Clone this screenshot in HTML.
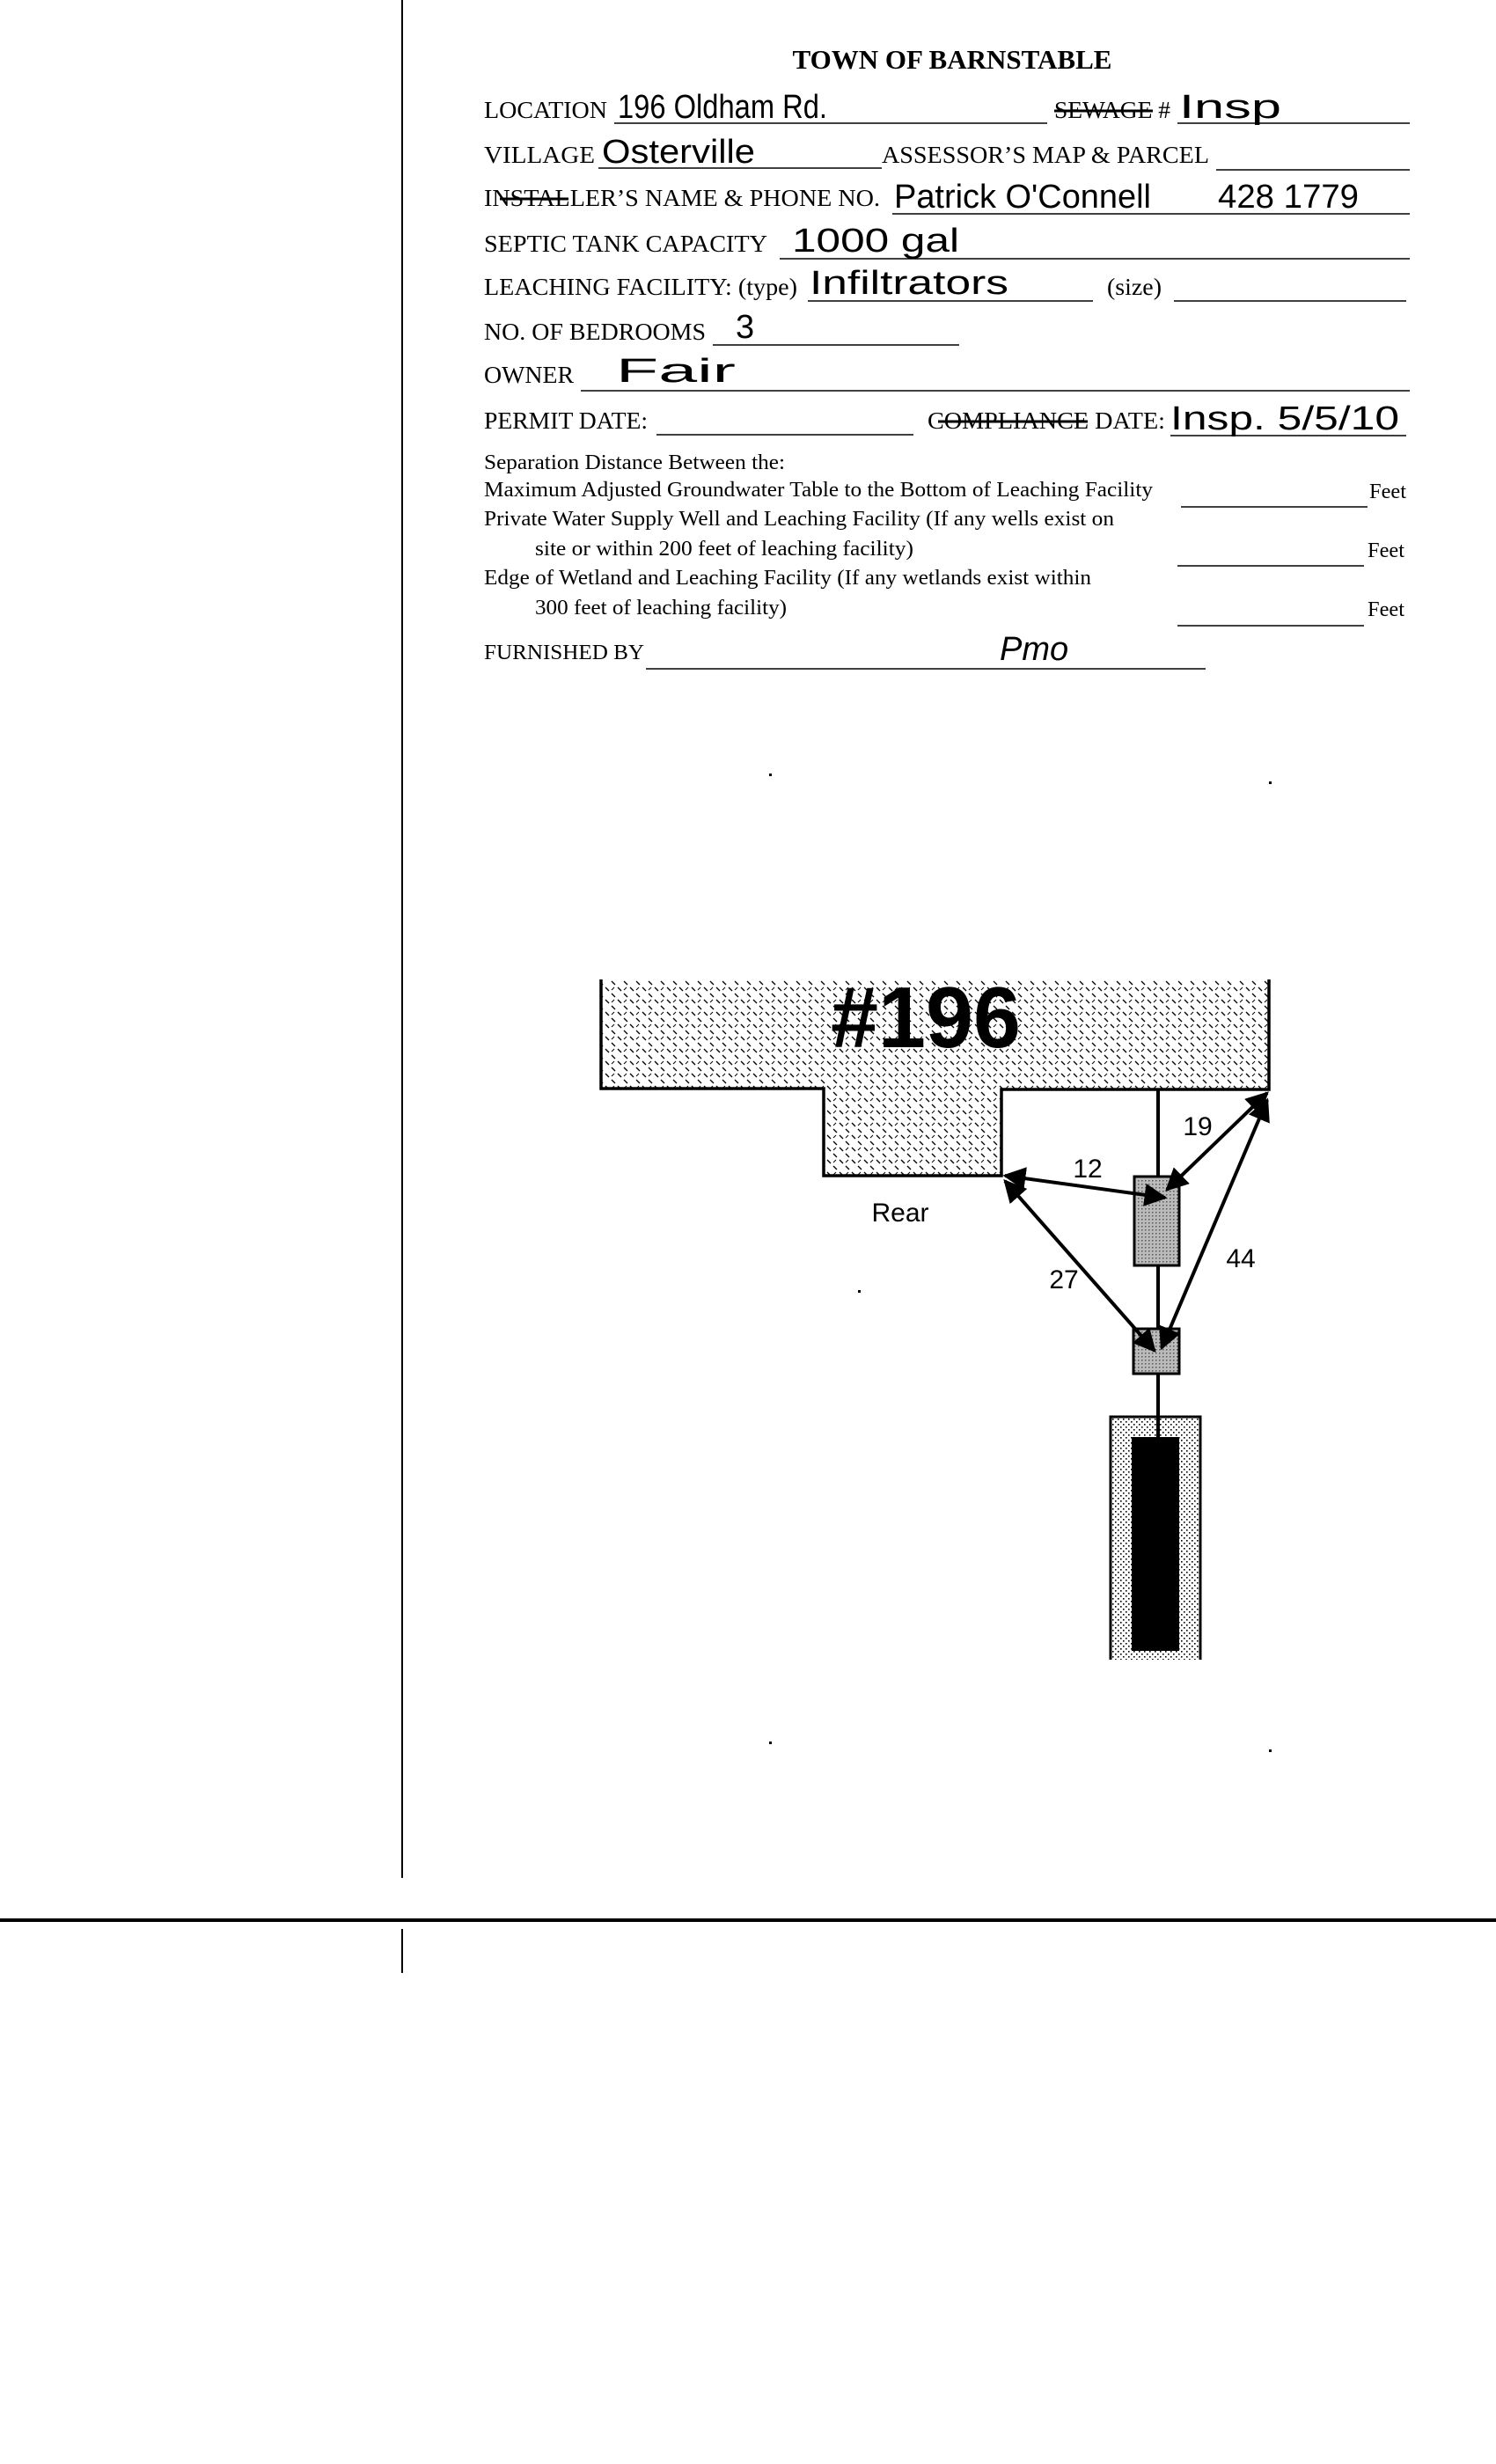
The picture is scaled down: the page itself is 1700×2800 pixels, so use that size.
<!DOCTYPE html>
<html><head><meta charset="utf-8"><style>
html,body{margin:0;padding:0;background:#fff;}
svg{display:block}
.f{font-family:"Liberation Serif",serif;font-size:27px;fill:#000}
.s{font-family:"Liberation Serif",serif;font-size:24px;fill:#000}
.h{font-family:"Liberation Sans",sans-serif;font-size:38px;fill:#000;font-weight:normal}
.d{font-family:"Liberation Sans",sans-serif;font-size:30px;fill:#000}
</style></head><body>
<svg width="1700" height="2800" viewBox="0 0 1700 2800" xmlns="http://www.w3.org/2000/svg">
<defs>
<pattern id="hatch" width="14" height="14" patternUnits="userSpaceOnUse">
<line x1="2" y1="2" x2="6" y2="6" stroke="#000" stroke-width="1.3"/>
<line x1="9" y1="9" x2="13" y2="13" stroke="#000" stroke-width="1.3"/>
<line x1="12" y1="2" x2="9" y2="5" stroke="#000" stroke-width="1"/>
</pattern>
<pattern id="dots" width="6" height="6" patternUnits="userSpaceOnUse">
<rect x="1" y="1" width="1.6" height="1.6" fill="#000"/>
<rect x="4" y="4" width="1.6" height="1.6" fill="#000"/>
</pattern>
<pattern id="gray" width="4" height="4" patternUnits="userSpaceOnUse">
<rect width="4" height="4" fill="#bbb"/>
<rect x="1" y="1" width="1.5" height="1.5" fill="#555"/>
</pattern>
<marker id="ah" viewBox="0 0 10 10" refX="9" refY="5" markerWidth="6.5" markerHeight="6.5" orient="auto-start-reverse">
<path d="M0,0 L10,5 L0,10 z" fill="#000"/>
</marker>
</defs>

<!-- page lines -->
<line x1="457" y1="0" x2="457" y2="2134" stroke="#000" stroke-width="2"/>
<line x1="457" y1="2192" x2="457" y2="2242" stroke="#000" stroke-width="2"/>
<line x1="0" y1="2182" x2="1700" y2="2182" stroke="#000" stroke-width="4"/>

<!-- Form -->
<text x="1082" y="78" text-anchor="middle" font-family="Liberation Serif,serif" font-weight="bold" font-size="31">TOWN OF BARNSTABLE</text>

<g stroke="#000" stroke-width="1.6">
<line x1="698" y1="140" x2="1190" y2="140"/>
<line x1="1338" y1="140" x2="1602" y2="140"/>
<line x1="680" y1="191" x2="1002" y2="191"/>
<line x1="1382" y1="193" x2="1602" y2="193"/>
<line x1="1014" y1="243" x2="1602" y2="243"/>
<line x1="886" y1="294" x2="1602" y2="294"/>
<line x1="918" y1="342" x2="1242" y2="342"/>
<line x1="1334" y1="342" x2="1598" y2="342"/>
<line x1="810" y1="392" x2="1090" y2="392"/>
<line x1="660" y1="444" x2="1602" y2="444"/>
<line x1="746" y1="494" x2="1038" y2="494"/>
<line x1="1330" y1="495" x2="1598" y2="495"/>
<line x1="1342" y1="576" x2="1554" y2="576"/>
<line x1="1338" y1="643" x2="1550" y2="643"/>
<line x1="1338" y1="711" x2="1550" y2="711"/>
<line x1="734" y1="760" x2="1370" y2="760"/>
</g>

<text class="f" x="550" y="134" textLength="140" lengthAdjust="spacingAndGlyphs">LOCATION</text>
<text class="f" x="1198" y="134" textLength="132" lengthAdjust="spacingAndGlyphs">SEWAGE #</text>
<line x1="1198" y1="126" x2="1310" y2="126" stroke="#000" stroke-width="3"/>
<text class="f" x="550" y="185" textLength="126" lengthAdjust="spacingAndGlyphs">VILLAGE</text>
<text class="f" x="1002" y="185" textLength="372" lengthAdjust="spacingAndGlyphs">ASSESSOR’S MAP &amp; PARCEL</text>
<text class="f" x="550" y="234" textLength="450" lengthAdjust="spacingAndGlyphs">INSTALLER’S NAME &amp; PHONE NO.</text>
<line x1="568" y1="226" x2="646" y2="226" stroke="#000" stroke-width="3"/>
<text class="f" x="550" y="286" textLength="322" lengthAdjust="spacingAndGlyphs">SEPTIC TANK CAPACITY</text>
<text class="f" x="550" y="335" textLength="356" lengthAdjust="spacingAndGlyphs">LEACHING FACILITY: (type)</text>
<text class="f" x="1258" y="335" textLength="62" lengthAdjust="spacingAndGlyphs">(size)</text>
<text class="f" x="550" y="386" textLength="252" lengthAdjust="spacingAndGlyphs">NO. OF BEDROOMS</text>
<text class="f" x="550" y="435" textLength="102" lengthAdjust="spacingAndGlyphs">OWNER</text>
<text class="f" x="550" y="487" textLength="186" lengthAdjust="spacingAndGlyphs">PERMIT DATE:</text>
<text class="f" x="1054" y="487" textLength="270" lengthAdjust="spacingAndGlyphs">COMPLIANCE DATE:</text>
<line x1="1066" y1="479" x2="1236" y2="479" stroke="#000" stroke-width="3"/>

<text class="s" x="550" y="533" textLength="342" lengthAdjust="spacingAndGlyphs">Separation Distance Between the:</text>
<text class="s" x="550" y="564" textLength="760" lengthAdjust="spacingAndGlyphs">Maximum Adjusted Groundwater Table to the Bottom of Leaching Facility</text>
<text class="s" x="1556" y="566" textLength="42" lengthAdjust="spacingAndGlyphs">Feet</text>
<text class="s" x="550" y="597" textLength="716" lengthAdjust="spacingAndGlyphs">Private Water Supply Well and Leaching Facility (If any wells exist on</text>
<text class="s" x="608" y="631" textLength="430" lengthAdjust="spacingAndGlyphs">site or within 200 feet of leaching facility)</text>
<text class="s" x="1554" y="633" textLength="42" lengthAdjust="spacingAndGlyphs">Feet</text>
<text class="s" x="550" y="664" textLength="690" lengthAdjust="spacingAndGlyphs">Edge of Wetland and Leaching Facility (If any wetlands exist within</text>
<text class="s" x="608" y="698" textLength="286" lengthAdjust="spacingAndGlyphs">300 feet of leaching facility)</text>
<text class="s" x="1554" y="700" textLength="42" lengthAdjust="spacingAndGlyphs">Feet</text>
<text class="s" x="550" y="749" textLength="182" lengthAdjust="spacingAndGlyphs">FURNISHED BY</text>

<!-- handwriting -->
<text class="h" x="702" y="134" font-size="44" textLength="238" lengthAdjust="spacingAndGlyphs">196 Oldham Rd.</text>
<text class="h" x="1340" y="134" font-size="38" textLength="116" lengthAdjust="spacingAndGlyphs">Insp</text>
<text class="h" x="684" y="185" textLength="174" lengthAdjust="spacingAndGlyphs">Osterville</text>
<text class="h" x="1016" y="236" textLength="292" lengthAdjust="spacingAndGlyphs">Patrick O'Connell</text>
<text class="h" x="1384" y="236" textLength="160" lengthAdjust="spacingAndGlyphs">428 1779</text>
<text class="h" x="900" y="286" font-size="38" textLength="190" lengthAdjust="spacingAndGlyphs">1000 gal</text>
<text class="h" x="920" y="334" textLength="226" lengthAdjust="spacingAndGlyphs">Infiltrators</text>
<text class="h" x="836" y="384" font-size="40">3</text>
<text class="h" x="700" y="434" font-size="40" textLength="136" lengthAdjust="spacingAndGlyphs">Fair</text>
<text class="h" x="1330" y="488" font-size="40" textLength="260" lengthAdjust="spacingAndGlyphs">Insp. 5/5/10</text>
<text class="h" x="1136" y="750" font-size="46" font-style="italic">Pmo</text>

<!-- Diagram -->
<path d="M683,1113 L683,1237 L936,1237 L936,1336 L1138,1336 L1138,1238 L1442,1238 L1442,1113 Z" fill="url(#hatch)"/>
<path d="M683,1113 L683,1237 L936,1237 L936,1336 L1138,1336 L1138,1238 L1442,1238 L1442,1113" fill="none" stroke="#000" stroke-width="3.5"/>
<text x="1052" y="1190" text-anchor="middle" font-family="Liberation Sans,sans-serif" font-weight="bold" font-size="98" textLength="216" lengthAdjust="spacingAndGlyphs">#196</text>

<g stroke="#000" stroke-width="4">
<line x1="1316" y1="1238" x2="1316" y2="1340"/>
<line x1="1316" y1="1438" x2="1316" y2="1512"/>
<line x1="1316" y1="1561" x2="1316" y2="1640"/>
</g>

<rect x="1262" y="1610" width="102" height="276" fill="url(#dots)"/>
<path d="M1262,1886 L1262,1610 L1364,1610 L1364,1886" fill="none" stroke="#000" stroke-width="3"/>
<rect x="1286" y="1633" width="54" height="243" fill="#000"/>

<rect x="1289" y="1337" width="51" height="101" fill="url(#gray)" stroke="#000" stroke-width="3"/>
<rect x="1288" y="1510" width="52" height="51" fill="url(#gray)" stroke="#000" stroke-width="3"/>

<g stroke="#000" stroke-width="4" fill="none">
<line x1="1324" y1="1361" x2="1142" y2="1336" marker-start="url(#ah)" marker-end="url(#ah)"/>
<line x1="1326" y1="1352" x2="1440" y2="1242" marker-start="url(#ah)" marker-end="url(#ah)"/>
<line x1="1312" y1="1535" x2="1142" y2="1342" marker-start="url(#ah)" marker-end="url(#ah)"/>
<line x1="1320" y1="1532" x2="1440" y2="1250" marker-start="url(#ah)" marker-end="url(#ah)"/>
</g>
<text class="d" x="1236" y="1338" text-anchor="middle">12</text>
<text class="d" x="1361" y="1290" text-anchor="middle">19</text>
<text class="d" x="1209" y="1464" text-anchor="middle">27</text>
<text class="d" x="1410" y="1440" text-anchor="middle">44</text>
<text class="d" x="1023" y="1388" text-anchor="middle">Rear</text>

<g fill="#000">
<rect x="874" y="879" width="3" height="3"/>
<rect x="1442" y="888" width="3" height="3"/>
<rect x="874" y="1979" width="3" height="3"/>
<rect x="1442" y="1988" width="3" height="3"/>
<rect x="975" y="1466" width="3" height="3"/>
</g>
</svg>
</body></html>
